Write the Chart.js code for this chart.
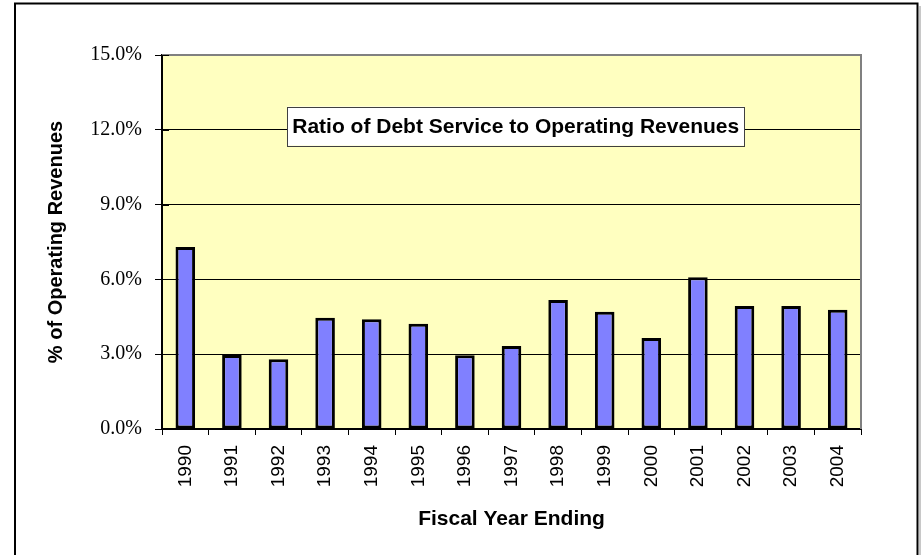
<!DOCTYPE html>
<html lang="en">
<head>
    <meta charset="UTF-8">
    <title>Ratio of Debt Service to Operating Revenues</title>
    <script src="https://cdn.jsdelivr.net/npm/chart.js"></script>
    <style>
        body {
            margin: 0;
            background: #ffffff;
        }
        #debtChart {
            display: block;
        }
    </style>
</head>
<body>
    <canvas id="debtChart" width="923" height="555"></canvas>

    <script>
        // Fiscal years and debt service as % of operating revenues
        const years = ['1990', '1991', '1992', '1993', '1994', '1995', '1996', '1997',
                       '1998', '1999', '2000', '2001', '2002', '2003', '2004'];
        const debtRatio = [7.3, 2.97, 2.8, 4.46, 4.4, 4.22, 2.96, 3.33,
                           5.17, 4.7, 3.65, 6.09, 4.93, 4.93, 4.78];
        const yTicks = [0, 3, 6, 9, 12, 15];

        const chartTitle = 'Ratio of Debt Service to Operating Revenues';

        // Page frame, plot background and the boxed title
        const framePlugin = {
            id: 'frame',
            beforeDraw(chart) {
                const ctx = chart.ctx;
                const a = chart.chartArea;
                ctx.save();
                ctx.fillStyle = '#ffffff';
                ctx.fillRect(0, 0, chart.width, chart.height);
                // outer border with a light shadow on the right
                ctx.strokeStyle = '#c8c8c8';
                ctx.lineWidth = 2;
                ctx.beginPath();
                ctx.moveTo(920, 6);
                ctx.lineTo(920, chart.height + 5);
                ctx.stroke();
                ctx.strokeStyle = '#000000';
                ctx.strokeRect(15, 3.5, 902.5, chart.height + 10);
                // plot area
                ctx.fillStyle = '#ffffc0';
                ctx.fillRect(a.left, a.top, a.right - a.left, a.bottom - a.top);
                ctx.restore();
            },
            afterDraw(chart) {
                const ctx = chart.ctx;
                const a = chart.chartArea;
                const y = chart.scales.y;
                ctx.save();
                // grey top and right edges of the plot area
                ctx.strokeStyle = '#808080';
                ctx.lineWidth = 2;
                ctx.beginPath();
                ctx.moveTo(a.left, a.top);
                ctx.lineTo(a.right, a.top);
                ctx.lineTo(a.right, a.bottom);
                ctx.stroke();
                // tick marks crossing into the plot
                ctx.strokeStyle = '#000000';
                ctx.lineWidth = 1;
                yTicks.forEach(v => {
                    const py = Math.round(y.getPixelForValue(v)) + 0.5;
                    ctx.beginPath();
                    ctx.moveTo(a.left, py);
                    ctx.lineTo(a.left + 7, py);
                    ctx.stroke();
                });
                // boxed title
                ctx.font = 'bold 21px "Liberation Sans", Arial, sans-serif';
                const tw = ctx.measureText(chartTitle).width;
                const cx = a.left + (a.right - a.left) * 0.506;
                const cy = a.top + (a.bottom - a.top) * 0.19;
                const bw = tw + 10;
                const bh = 39;
                ctx.fillStyle = '#ffffff';
                ctx.fillRect(cx - bw / 2, cy - bh / 2, bw, bh);
                ctx.strokeStyle = '#404040';
                ctx.strokeRect(Math.round(cx - bw / 2) + 0.5, Math.round(cy - bh / 2) + 0.5, Math.round(bw), bh);
                ctx.fillStyle = '#000000';
                ctx.textAlign = 'center';
                ctx.textBaseline = 'middle';
                ctx.fillText(chartTitle, cx, cy + 1);
                ctx.restore();
            }
        };

        const ctx = document.getElementById('debtChart').getContext('2d');

        const debtChart = new Chart(ctx, {
            type: 'bar',
            data: {
                labels: years,
                datasets: [{
                    label: 'Debt Service / Operating Revenues',
                    data: debtRatio,
                    backgroundColor: '#8080ff',
                    borderColor: '#000000',
                    borderWidth: 3,
                    borderSkipped: false,
                    barPercentage: 0.42,
                    categoryPercentage: 1.0
                }]
            },
            options: {
                responsive: false,
                animation: false,
                layout: {
                    padding: { left: 0, top: 55, right: 62, bottom: 0 }
                },
                plugins: {
                    legend: { display: false },
                    tooltip: { enabled: false }
                },
                scales: {
                    x: {
                        afterFit(scale) { scale.height = 126; },
                        grid: {
                            offset: true,
                            drawOnChartArea: false,
                            color: '#000000',
                            tickLength: 6,
                            lineWidth: 1
                        },
                        border: { color: '#000000', width: 2 },
                        ticks: {
                            minRotation: 90,
                            maxRotation: 90,
                            autoSkip: false,
                            padding: 10,
                            color: '#000000',
                            font: { family: '"Liberation Sans", Arial, sans-serif', size: 19 }
                        },
                        title: {
                            display: true,
                            text: 'Fiscal Year Ending',
                            color: '#000000',
                            padding: { top: 0, bottom: 23 },
                            font: { family: '"Liberation Sans", Arial, sans-serif', size: 21, weight: 'bold' }
                        }
                    },
                    y: {
                        min: 0,
                        max: 15,
                        afterFit(scale) { scale.width = 162; },
                        afterBuildTicks(scale) {
                            scale.ticks = yTicks.map(v => ({ value: v }));
                        },
                        grid: {
                            color: '#000000',
                            lineWidth: 1,
                            tickLength: 7
                        },
                        border: { color: '#000000', width: 2 },
                        ticks: {
                            padding: 13,
                            color: '#000000',
                            font: { family: '"Liberation Serif", "Times New Roman", serif', size: 20 },
                            callback: value => value.toFixed(1) + '%'
                        },
                        title: {
                            display: true,
                            text: '% of Operating Revenues',
                            color: '#000000',
                            padding: { top: 44, bottom: 0 },
                            font: { family: '"Liberation Sans", Arial, sans-serif', size: 20, weight: 'bold' }
                        }
                    }
                }
            },
            plugins: [framePlugin]
        });
    </script>
</body>
</html>
